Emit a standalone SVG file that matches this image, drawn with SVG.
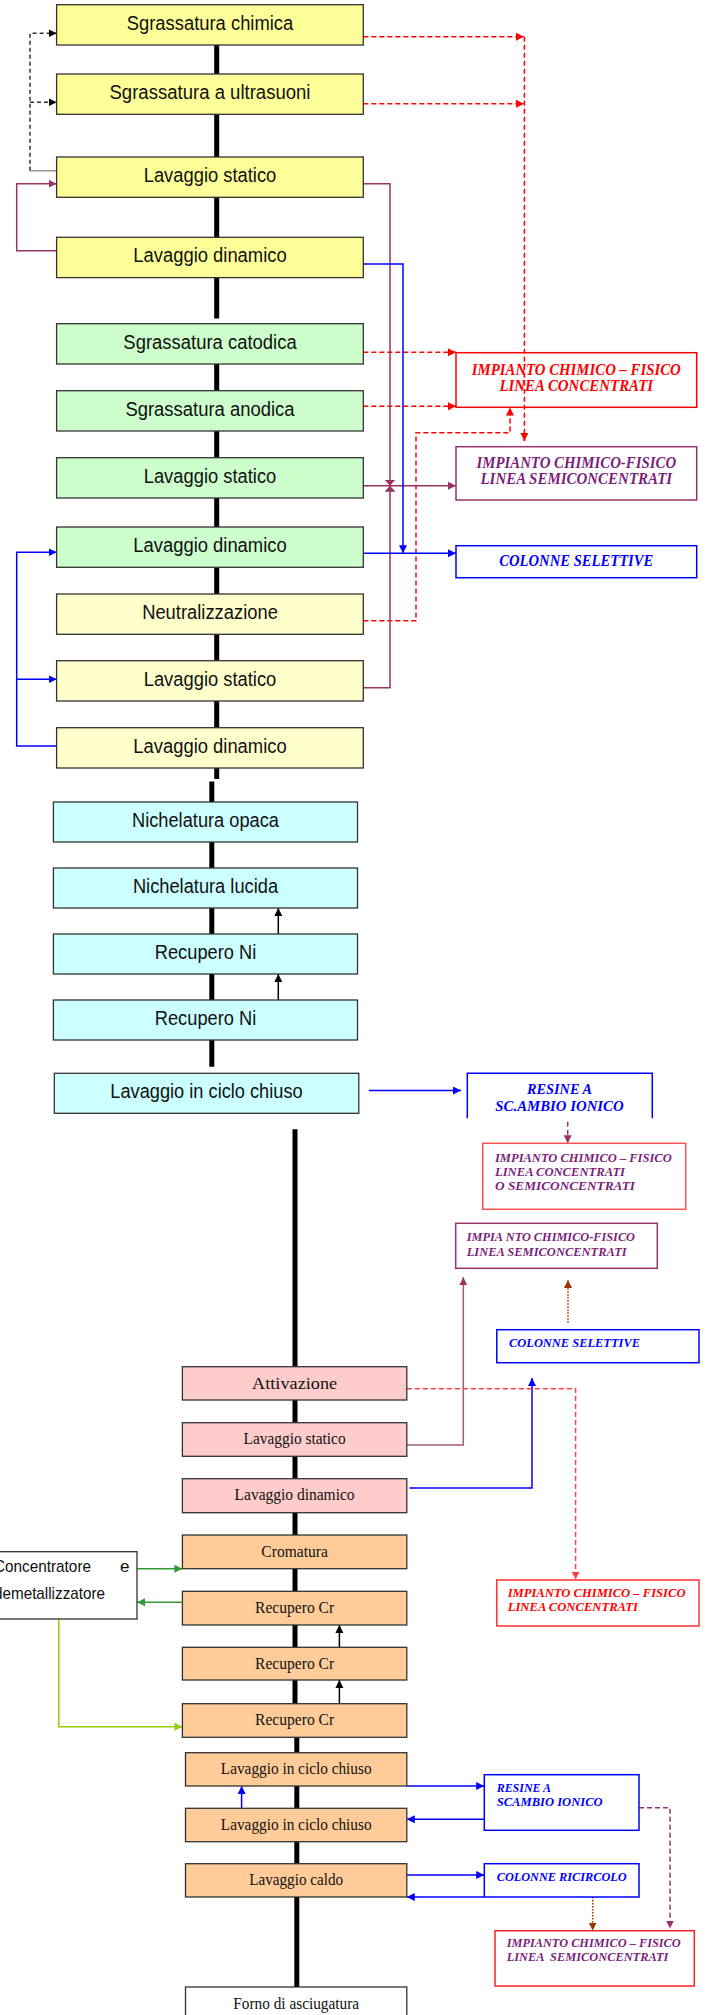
<svg xmlns="http://www.w3.org/2000/svg" width="709" height="2015" viewBox="0 0 709 2015">
<defs>
<style>
.box{stroke:#333;stroke-width:1.3}
.y1{fill:#FFFF99}.g1{fill:#CCFFCC}.y2{fill:#FFFFCC}.c1{fill:#CCFFFF}.p1{fill:#FFCCCC}.o1{fill:#FFCC99}.w1{fill:#FFFFFF}
.ts{font-family:"Liberation Sans",Arial,sans-serif;font-size:20px;fill:#111;text-anchor:middle}
.tr{font-family:"Liberation Serif","Times New Roman",serif;font-size:17px;fill:#111;text-anchor:middle}
.ti{font-family:"Liberation Serif","Times New Roman",serif;font-weight:bold;font-style:italic}
.big{font-size:16.5px;text-anchor:middle}
.sm{font-size:13px}
.spine{stroke:#000;stroke-width:5;fill:none}
.ln{fill:none;stroke-width:1.5}
.red{stroke:#FF0000}.blue{stroke:#0000FF}.mauve{stroke:#993366}.brown{stroke:#993300}
.dash{stroke-dasharray:5 3}
.dot{stroke-dasharray:1.5 1.5}
.fr{fill:#FF0000}.fb{fill:#0000FF}.fp{fill:#7A1F7A}
</style>
<marker id="aRed" markerUnits="userSpaceOnUse" markerWidth="9" markerHeight="9" refX="8" refY="4" orient="auto"><path d="M0,0 L8,4 L0,8 z" fill="#FF0000"/></marker>
<marker id="aRed2" markerUnits="userSpaceOnUse" markerWidth="9" markerHeight="9" refX="8" refY="4" orient="auto"><path d="M0,0 L8,4 L0,8 z" fill="#FF4040"/></marker>
<marker id="aBlue" markerUnits="userSpaceOnUse" markerWidth="9" markerHeight="9" refX="8" refY="4" orient="auto"><path d="M0,0 L8,4 L0,8 z" fill="#0000FF"/></marker>
<marker id="aMauve" markerUnits="userSpaceOnUse" markerWidth="9" markerHeight="9" refX="8" refY="4" orient="auto"><path d="M0,0 L8,4 L0,8 z" fill="#993366"/></marker>
<marker id="aMauveS" markerUnits="userSpaceOnUse" markerWidth="7" markerHeight="12" refX="6" refY="5.5" orient="auto"><path d="M0,0 L6,5.5 L0,11 z" fill="#993366"/></marker>
<marker id="aBrown" markerUnits="userSpaceOnUse" markerWidth="9" markerHeight="9" refX="8" refY="4" orient="auto"><path d="M0,0 L8,4 L0,8 z" fill="#993300"/></marker>
<marker id="aBlk" markerUnits="userSpaceOnUse" markerWidth="9" markerHeight="9" refX="8" refY="4" orient="auto"><path d="M0,0 L8,4 L0,8 z" fill="#000"/></marker>
<marker id="aGreen" markerUnits="userSpaceOnUse" markerWidth="9" markerHeight="9" refX="8" refY="4" orient="auto"><path d="M0,0 L8,4 L0,8 z" fill="#339933"/></marker>
<marker id="aYg" markerUnits="userSpaceOnUse" markerWidth="9" markerHeight="9" refX="8" refY="4" orient="auto"><path d="M0,0 L8,4 L0,8 z" fill="#99CC00"/></marker>
</defs>

<!-- treatment plant whose outline the red drain line crosses -->
<g id="r1"><rect x="456" y="352.7" width="240.7" height="54.6" fill="#fff" stroke="#FF0000" stroke-width="1.5"/>
  <text class="ti big fr" x="576.3" y="375" textLength="209" lengthAdjust="spacingAndGlyphs">IMPIANTO CHIMICO – FISICO</text>
  <text class="ti big fr" x="576.3" y="391" textLength="153.7" lengthAdjust="spacingAndGlyphs">LINEA CONCENTRATI</text></g>

<!-- process line (spine) and all flow connectors -->
<g id="connectors">
  <g class="spine">
    <path d="M216.7,45 V74 M216.7,114.3 V157 M216.7,197.3 V237.3 M216.7,277.6 V318.5 M216.7,364 V390.7 M216.7,431 V457.7 M216.7,498 V527 M216.7,567.3 V594 M216.7,634.3 V660.7 M216.7,701 V727.7 M216.7,768 V779"/>
    <path d="M211.8,781.5 V802 M211.8,842 V868 M211.8,908 V934 M211.8,974 V1000 M211.8,1040 V1066.7"/>
    <path d="M295,1129.3 V1366.7 M295,1400 V1422.7 M295,1456.3 V1478.7 M295,1512.7 V1535 M295,1568.7 V1591.3 M295,1625 V1647.3 M295,1680 V1703.7"/>
    <path d="M296.8,1738 V1752.7 M296.8,1786 V1808.3 M296.8,1841.7 V1863.7 M296.8,1897 V1987"/>
  </g>

  <!-- degreasing loop on the left -->
  <path class="ln" d="M56.6,170.7 H30" stroke="#333" stroke-dasharray="1 1"/>
  <path class="ln" d="M30,170.7 V33.3 H56.6" stroke="#333" stroke-dasharray="4 3" marker-end="url(#aBlk)"/>
  <path class="ln" d="M30,102.3 H56.6" stroke="#333" stroke-dasharray="4 3" marker-end="url(#aBlk)"/>

  <!-- red dashed: to concentrate line -->
  <path class="ln red dash" d="M363.3,36.7 H524" marker-end="url(#aRed)"/>
  <path class="ln red dash" d="M363.3,103.7 H524" marker-end="url(#aRed)"/>
  <path class="ln red dash" d="M524.4,36.7 V441"/>
  <path class="ln red" d="M524.4,432 V441" marker-end="url(#aRed)"/>
  <path class="ln red dash" d="M363.3,352.3 H456" marker-end="url(#aRed)"/>
  <path class="ln red dash" d="M363.3,406.3 H456" marker-end="url(#aRed)"/>
  <path class="ln red dash" d="M363.3,620.7 H416 V432.7 H510 V407.5" marker-end="url(#aRed)"/>

  <!-- mauve: static rinse circuits -->
  <path class="ln mauve" d="M56.6,250.7 H16.7 V183.7 H56.6" marker-end="url(#aMauve)"/>
  <path class="ln mauve" d="M363.3,183.7 H390 V485.7" marker-end="url(#aMauveS)"/>
  <path class="ln mauve" d="M363.3,687.7 H390 V485.7" marker-end="url(#aMauveS)"/>
  <path class="ln mauve" d="M363.3,485.7 H456" marker-end="url(#aMauve)"/>

  <!-- blue: dynamic rinse circuits -->
  <path class="ln blue" d="M363.3,264 H403 V553.3" marker-end="url(#aBlue)"/>
  <path class="ln blue" d="M363.3,553.3 H456" marker-end="url(#aBlue)"/>
  <path class="ln blue" d="M56.6,746 H16.7 V552.3 H56.6" marker-end="url(#aBlue)"/>
  <path class="ln blue" d="M16.7,679.3 H56.6" marker-end="url(#aBlue)"/>

  <!-- nickel recovery -->
  <path class="ln" stroke="#000" stroke-width="1" d="M278.3,934 V908" marker-end="url(#aBlk)"/>
  <path class="ln" stroke="#000" stroke-width="1" d="M278.3,1000 V974" marker-end="url(#aBlk)"/>
  <path class="ln blue" stroke-width="2" d="M368.8,1090.5 H461" marker-end="url(#aBlue)"/>
  <path class="ln dash" stroke="#993366" stroke-width="1" d="M567.7,1121.7 V1143.3" marker-end="url(#aMauve)"/>

  <!-- activation / rinses -->
  <path class="ln" stroke="#A0607A" d="M406.8,1445 H463.3 V1277.3" marker-end="url(#aMauve)"/>
  <path class="ln brown dot" stroke-width="1" d="M568,1322.7 V1280" marker-end="url(#aBrown)"/>
  <path class="ln blue" d="M409.5,1488 H532 V1378" marker-end="url(#aBlue)"/>
  <path class="ln dash" stroke="#FF4040" d="M406.8,1388.7 H575.6 V1579.5" marker-end="url(#aRed2)"/>

  <!-- chromium recovery -->
  <path class="ln" stroke="#339933" d="M137,1568.7 H182.4" marker-end="url(#aGreen)"/>
  <path class="ln" stroke="#339933" d="M182.4,1602.3 H137" marker-end="url(#aGreen)"/>
  <path class="ln" stroke="#99CC00" d="M58.8,1619 V1726.7 H182.4" marker-end="url(#aYg)"/>
  <path class="ln" stroke="#000" stroke-width="1" d="M339.4,1647.3 V1625" marker-end="url(#aBlk)"/>
  <path class="ln" stroke="#000" stroke-width="1" d="M339.4,1703.7 V1680" marker-end="url(#aBlk)"/>

  <!-- closed-loop rinses -->
  <path class="ln blue" d="M241.6,1808.3 V1786" marker-end="url(#aBlue)"/>
  <path class="ln blue" d="M406.8,1786 H484.2" marker-end="url(#aBlue)"/>
  <path class="ln blue" d="M484.2,1819.3 H406.8" marker-end="url(#aBlue)"/>
  <path class="ln blue" d="M406.8,1875 H484.2" marker-end="url(#aBlue)"/>
  <path class="ln blue" d="M484.2,1897 H406.8" marker-end="url(#aBlue)"/>
  <path class="ln dash" stroke="#993366" stroke-width="1" d="M639,1807.7 H670 V1928.5" marker-end="url(#aMauve)"/>
  <path class="ln brown dot" stroke-width="1" d="M592.7,1897 V1930.5" marker-end="url(#aBrown)"/>
</g>

<!-- degreasing and rinse tanks -->
<g id="n1"><rect class="box y1" x="56.6" y="4.7" width="306.7" height="40.3"/><text class="ts" x="210" y="29.7" textLength="166.5" lengthAdjust="spacingAndGlyphs">Sgrassatura chimica</text></g>
<g id="n2"><rect class="box y1" x="56.6" y="74" width="306.7" height="40.3"/><text class="ts" x="210" y="99" textLength="201" lengthAdjust="spacingAndGlyphs">Sgrassatura a ultrasuoni</text></g>
<g id="n3"><rect class="box y1" x="56.6" y="157" width="306.7" height="40.3"/><text class="ts" x="210" y="182" textLength="132.6" lengthAdjust="spacingAndGlyphs">Lavaggio statico</text></g>
<g id="n4"><rect class="box y1" x="56.6" y="237.3" width="306.7" height="40.3"/><text class="ts" x="210" y="262.3" textLength="153.4" lengthAdjust="spacingAndGlyphs">Lavaggio dinamico</text></g>
<g id="n5"><rect class="box g1" x="56.6" y="323.7" width="306.7" height="40.3"/><text class="ts" x="210" y="348.7" textLength="173.3" lengthAdjust="spacingAndGlyphs">Sgrassatura catodica</text></g>
<g id="n6"><rect class="box g1" x="56.6" y="390.7" width="306.7" height="40.3"/><text class="ts" x="210" y="415.7" textLength="169.2" lengthAdjust="spacingAndGlyphs">Sgrassatura anodica</text></g>
<g id="n7"><rect class="box g1" x="56.6" y="457.7" width="306.7" height="40.3"/><text class="ts" x="210" y="482.7" textLength="132.6" lengthAdjust="spacingAndGlyphs">Lavaggio statico</text></g>
<g id="n8"><rect class="box g1" x="56.6" y="527" width="306.7" height="40.3"/><text class="ts" x="210" y="552" textLength="153.4" lengthAdjust="spacingAndGlyphs">Lavaggio dinamico</text></g>
<g id="n9"><rect class="box y2" x="56.6" y="594" width="306.7" height="40.3"/><text class="ts" x="210" y="619" textLength="135.7" lengthAdjust="spacingAndGlyphs">Neutralizzazione</text></g>
<g id="n10"><rect class="box y2" x="56.6" y="660.7" width="306.7" height="40.3"/><text class="ts" x="210" y="685.7" textLength="132.6" lengthAdjust="spacingAndGlyphs">Lavaggio statico</text></g>
<g id="n11"><rect class="box y2" x="56.6" y="727.7" width="306.7" height="40.3"/><text class="ts" x="210" y="752.7" textLength="153.4" lengthAdjust="spacingAndGlyphs">Lavaggio dinamico</text></g>

<!-- nickel plating -->
<g id="n12"><rect class="box c1" x="53.4" y="802" width="304.1" height="40"/><text class="ts" x="205.5" y="827" textLength="147" lengthAdjust="spacingAndGlyphs">Nichelatura opaca</text></g>
<g id="n13"><rect class="box c1" x="53.4" y="868" width="304.1" height="40"/><text class="ts" x="205.5" y="893" textLength="145.2" lengthAdjust="spacingAndGlyphs">Nichelatura lucida</text></g>
<g id="n14"><rect class="box c1" x="53.4" y="934" width="304.1" height="40"/><text class="ts" x="205.5" y="959" textLength="101.4" lengthAdjust="spacingAndGlyphs">Recupero Ni</text></g>
<g id="n15"><rect class="box c1" x="53.4" y="1000" width="304.1" height="40"/><text class="ts" x="205.5" y="1025" textLength="101.4" lengthAdjust="spacingAndGlyphs">Recupero Ni</text></g>
<g id="n16"><rect class="box c1" x="54.3" y="1073.3" width="304.5" height="40"/><text class="ts" x="206.5" y="1098.3" textLength="192.3" lengthAdjust="spacingAndGlyphs">Lavaggio in ciclo chiuso</text></g>

<!-- treatment plants (upper) -->
<g id="r2"><rect x="456" y="446.7" width="240.7" height="53.3" fill="#fff" stroke="#993366" stroke-width="1.5"/>
  <text class="ti big fp" x="576.3" y="468.3" textLength="199.7" lengthAdjust="spacingAndGlyphs">IMPIANTO CHIMICO-FISICO</text>
  <text class="ti big fp" x="576.3" y="484.3" textLength="191.7" lengthAdjust="spacingAndGlyphs">LINEA SEMICONCENTRATI</text></g>
<g id="r3"><rect x="456" y="545.7" width="240.7" height="32" fill="#fff" stroke="#0000FF" stroke-width="1.5"/>
  <text class="ti big fb" x="576.3" y="566" textLength="154" lengthAdjust="spacingAndGlyphs">COLONNE SELETTIVE</text></g>

<!-- ion exchange after nickel -->
<g id="r4"><path d="M467.3,1118.3 V1073.3 H652.3 V1118.3" fill="none" stroke="#0000FF" stroke-width="1.5"/>
  <text class="ti fb" font-size="14px" text-anchor="middle" x="559.5" y="1094.3" textLength="65" lengthAdjust="spacingAndGlyphs">RESINE A</text>
  <text class="ti fb" font-size="14px" text-anchor="middle" x="559.5" y="1111" textLength="128.3" lengthAdjust="spacingAndGlyphs">SC.AMBIO IONICO</text></g>
<g id="r5"><rect x="482.7" y="1143.3" width="203" height="66" fill="#fff" stroke="#FF5050" stroke-width="1.5"/>
  <text class="ti sm fp" x="495" y="1161.7" textLength="176.7" lengthAdjust="spacingAndGlyphs">IMPIANTO CHIMICO – FISICO</text>
  <text class="ti sm fp" x="495" y="1175.5" textLength="130" lengthAdjust="spacingAndGlyphs">LINEA CONCENTRATI</text>
  <text class="ti sm fp" x="495" y="1190" textLength="140" lengthAdjust="spacingAndGlyphs">O SEMICONCENTRATI</text></g>
<g id="r6"><rect x="455.7" y="1223.3" width="201.6" height="45" fill="#fff" stroke="#993366" stroke-width="1.5"/>
  <text class="ti sm fp" x="466.7" y="1241" textLength="168.3" lengthAdjust="spacingAndGlyphs">IMPIA<tspan dx="3">NTO CHIMICO-FISICO</tspan></text>
  <text class="ti sm fp" x="466.7" y="1255.5" textLength="160" lengthAdjust="spacingAndGlyphs">LINEA SEMICONCENTRATI</text></g>
<g id="r7"><rect x="496.8" y="1329.7" width="202.2" height="33" fill="#fff" stroke="#0000FF" stroke-width="1.5"/>
  <text class="ti sm fb" x="509" y="1347" textLength="131" lengthAdjust="spacingAndGlyphs">COLONNE SELETTIVE</text></g>

<!-- activation and chromium -->
<g id="n17"><rect class="box p1" x="182.4" y="1366.7" width="224.4" height="33.3"/><text class="tr" font-size="19px" x="294.6" y="1389.3" textLength="85" lengthAdjust="spacingAndGlyphs">Attivazione</text></g>
<g id="n18"><rect class="box p1" x="182.4" y="1422.7" width="224.4" height="33.6"/><text class="tr" x="294.6" y="1444" textLength="102" lengthAdjust="spacingAndGlyphs">Lavaggio statico</text></g>
<g id="n19"><rect class="box p1" x="182.4" y="1478.7" width="224.4" height="34"/><text class="tr" x="294.6" y="1500" textLength="120" lengthAdjust="spacingAndGlyphs">Lavaggio dinamico</text></g>
<g id="n20"><rect class="box o1" x="182.4" y="1535" width="224.4" height="33.7"/><text class="tr" x="294.6" y="1556.7" textLength="66.5" lengthAdjust="spacingAndGlyphs">Cromatura</text></g>
<g id="n21"><rect class="box o1" x="182.4" y="1591.3" width="224.4" height="33.7"/><text class="tr" x="294.6" y="1612.5" textLength="79" lengthAdjust="spacingAndGlyphs">Recupero Cr</text></g>
<g id="n22"><rect class="box o1" x="182.4" y="1647.3" width="224.4" height="32.7"/><text class="tr" x="294.6" y="1668.5" textLength="79" lengthAdjust="spacingAndGlyphs">Recupero Cr</text></g>
<g id="n23"><rect class="box o1" x="182.4" y="1703.7" width="224.4" height="33.6"/><text class="tr" x="294.6" y="1725" textLength="79" lengthAdjust="spacingAndGlyphs">Recupero Cr</text></g>
<g id="n24"><rect class="box o1" x="185.5" y="1752.7" width="221.3" height="33.3"/><text class="tr" x="296.2" y="1774" textLength="150.7" lengthAdjust="spacingAndGlyphs">Lavaggio in ciclo chiuso</text></g>
<g id="n25"><rect class="box o1" x="185.5" y="1808.3" width="221.3" height="33.4"/><text class="tr" x="296.2" y="1830" textLength="150.7" lengthAdjust="spacingAndGlyphs">Lavaggio in ciclo chiuso</text></g>
<g id="n26"><rect class="box o1" x="185.5" y="1863.7" width="221.3" height="33.3"/><text class="tr" x="296.2" y="1885" textLength="94" lengthAdjust="spacingAndGlyphs">Lavaggio caldo</text></g>
<g id="n27"><rect class="box w1" x="185.5" y="1987" width="221.3" height="40"/><text class="tr" x="296.2" y="2008.5" textLength="125.7" lengthAdjust="spacingAndGlyphs">Forno di asciugatura</text></g>

<!-- concentrator / demetallizer -->
<g id="conc"><rect x="-5" y="1551.7" width="142" height="67.3" fill="#fff" stroke="#333" stroke-width="1.3"/>
  <text font-family="Liberation Sans, Arial, sans-serif" font-size="17px" fill="#111" x="-6" y="1572" textLength="97" lengthAdjust="spacingAndGlyphs">Concentratore</text>
  <text font-family="Liberation Sans, Arial, sans-serif" font-size="17px" fill="#111" x="120" y="1572">e</text>
  <text font-family="Liberation Sans, Arial, sans-serif" font-size="17px" fill="#111" x="-6" y="1599" textLength="111" lengthAdjust="spacingAndGlyphs">demetallizzatore</text></g>

<!-- treatment plants (lower) -->
<g id="r8"><rect x="496.8" y="1580" width="202.2" height="46" fill="#fff" stroke="#FF3030" stroke-width="1.5"/>
  <text class="ti sm fr" x="507.7" y="1597" textLength="177.8" lengthAdjust="spacingAndGlyphs">IMPIANTO CHIMICO – FISICO</text>
  <text class="ti sm fr" x="507.7" y="1611.3" textLength="130.3" lengthAdjust="spacingAndGlyphs">LINEA CONCENTRATI</text></g>
<g id="r9"><rect x="484.3" y="1774.7" width="154.7" height="55.6" fill="#fff" stroke="#0000FF" stroke-width="1.5"/>
  <text class="ti sm fb" x="496.7" y="1792.3" textLength="54.3" lengthAdjust="spacingAndGlyphs">RESINE A</text>
  <text class="ti sm fb" x="496.7" y="1806" textLength="106" lengthAdjust="spacingAndGlyphs">SCAMBIO IONICO</text></g>
<g id="r10"><rect x="484.3" y="1863.7" width="154.7" height="33.3" fill="#fff" stroke="#0000FF" stroke-width="1.5"/>
  <text class="ti sm fb" x="496.7" y="1880.7" textLength="130" lengthAdjust="spacingAndGlyphs">COLONNE RICIRCOLO</text></g>
<g id="r11"><rect x="495" y="1930.7" width="199.3" height="55.3" fill="#fff" stroke="#FF2020" stroke-width="1.5"/>
  <text class="ti sm fp" x="506.7" y="1946.7" textLength="174" lengthAdjust="spacingAndGlyphs">IMPIANTO CHIMICO – FISICO</text>
  <text class="ti sm fp" x="506.7" y="1961" textLength="161.7" lengthAdjust="spacingAndGlyphs" xml:space="preserve">LINEA  SEMICONCENTRATI</text></g>
</svg>
